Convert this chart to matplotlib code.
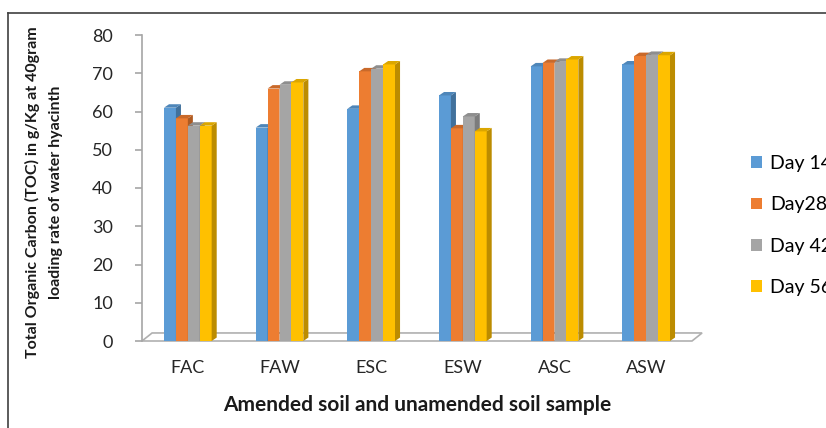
import matplotlib
matplotlib.use("Agg")
import matplotlib.pyplot as plt
from matplotlib.patches import Polygon, Patch
from matplotlib.lines import Line2D
import numpy as np

plt.rcParams['font.family'] = ['Lato', 'DejaVu Sans']

samples = ["FAC", "FAW", "ESC", "ESW", "ASC", "ASW"]
series = ["Day 14", "Day28", "Day 42", "Day 56"]
day14 = [61.0, 55.8, 60.7, 64.2, 71.8, 72.3]
day28 = [58.2, 66.0, 70.5, 55.6, 72.7, 74.5]
day42 = [56.3, 67.0, 71.2, 58.7, 73.0, 74.8]
day56 = [56.3, 67.6, 72.3, 54.8, 73.6, 74.7]

front = ["#5B9BD5", "#ED7D31", "#A5A5A5", "#FFC000"]
side = ["#41719C", "#AE5A21", "#7C7C7C", "#BC8C00"]
top = ["#4E86B9", "#C9692A", "#8E8E8E", "#DBA600"]

fig = plt.figure(figsize=(8.26, 4.28), dpi=100)
ax = fig.add_axes([142 / 826, 87 / 428, 550 / 826, 306 / 428])

x = np.arange(len(samples))
w = 0.13
dx, dy = 0.055, 0.9

# floor
ax.add_patch(Polygon([(-0.5, 0), (-0.5 + 0.11, 2.1), (5.5 + 0.11, 2.1), (5.5, 0)],
                     closed=True, facecolor="white", edgecolor="#B0B0B0", lw=1.2,
                     clip_on=False, zorder=1))

for i, vals in enumerate([day14, day28, day42, day56]):
    xs = x + (i - 1.5) * w
    ax.bar(xs, vals, width=w, color=front[i], zorder=3 + i, label=series[i])
    for xc, h in zip(xs, vals):
        x0, x1 = xc - w / 2, xc + w / 2
        ax.add_patch(Polygon([(x1, 0), (x1 + dx, dy), (x1 + dx, h + dy), (x1, h)],
                             closed=True, facecolor=side[i], lw=0, zorder=3 + i,
                             clip_on=False))
        ax.add_patch(Polygon([(x0, h), (x0 + dx, h + dy), (x1 + dx, h + dy), (x1, h)],
                             closed=True, facecolor=top[i], lw=0, zorder=3 + i,
                             clip_on=False))

ax.set_xlim(-0.5, 5.5)
ax.set_ylim(0, 80)
ax.set_yticks(range(0, 81, 10))
ax.set_xticks(x)
ax.set_xticklabels(samples)
for s in ["top", "right", "bottom"]:
    ax.spines[s].set_visible(False)
ax.spines["left"].set_color("#A6A6A6")
ax.spines["left"].set_linewidth(1.2)
ax.tick_params(axis="y", length=5, color="#A6A6A6", width=1.2, pad=16,
               labelsize=13, labelcolor="#262626")
ax.tick_params(axis="x", length=0, pad=14, labelsize=13, labelcolor="#262626")
ax.set_facecolor("none")

fig.text(44 / 826, 1 - 192 / 428,
         "Total Organic Carbon (TOC) in g/Kg at 40gram\nloading rate of water hyacinth",
         rotation=90, ha="center", va="center", fontsize=11.5, fontweight="bold",
         linespacing=1.75, color="#1A1A1A")
fig.text(417 / 826, 1 - 405 / 428, "Amended soil and unamended soil sample",
         ha="center", va="center", fontsize=15, fontweight="bold", color="#1A1A1A")

handles = [Patch(facecolor=c) for c in front]
fig.legend(handles, series, loc="upper left", bbox_to_anchor=(751 / 826, 1 - 155 / 428),
           frameon=False, fontsize=14, handlelength=0.55, handleheight=0.55,
           handletextpad=0.45, labelspacing=1.25, borderpad=0, borderaxespad=0)

fig.add_artist(Line2D([8 / 826, 8 / 826], [0, 1 - 13 / 428], color="#404040", lw=1.2))
fig.add_artist(Line2D([8 / 826, 1], [1 - 13 / 428, 1 - 13 / 428], color="#404040", lw=1.2))

fig.savefig("out.png", dpi=100)
